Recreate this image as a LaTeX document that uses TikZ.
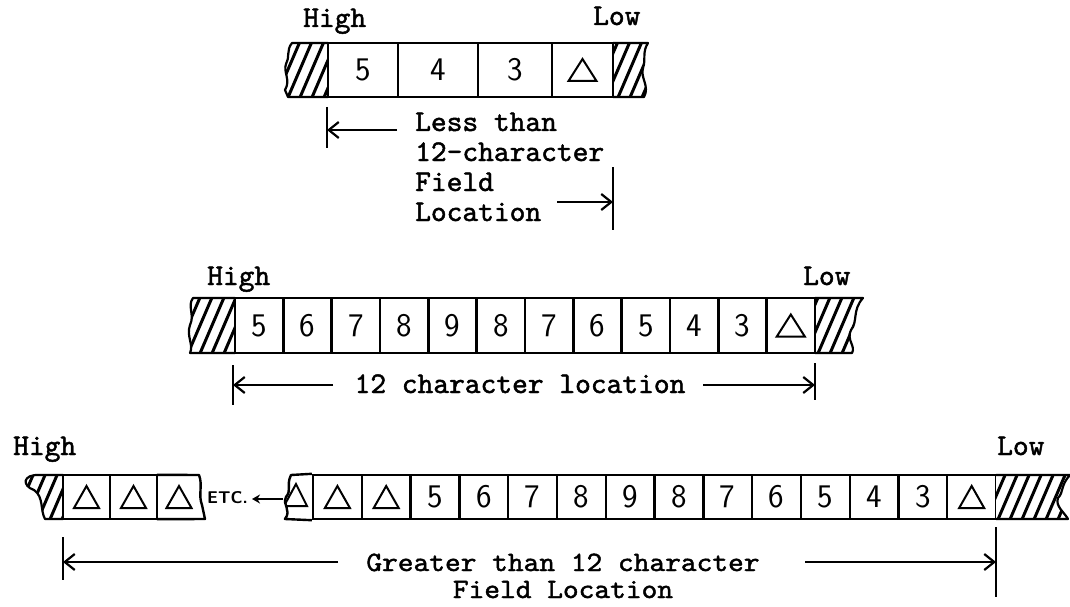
\documentclass[tikz,border=0pt]{standalone}
\usepackage{fontspec}
\usetikzlibrary{arrows.meta}
\newfontfamily\tw{lmmono10-regular.otf}[FakeBold=1.5]
\newfontfamily\twn{lmmono10-regular.otf}[FakeBold=1.5, FakeStretch=1.07]
\newcommand\hatchregion[5]{% #1 clip path, #2 x0, #3 count, #4 ytop, #5 ybot
  \begin{scope}
    \clip #1;
    \fill[white] #1;
    \foreach \k in {0,...,#3}
      \draw[hatchline] ({#2+12*\k},{#5+5}) -- ++({0.43*(#5-#4+10)},{-(#5-#4+10)});
  \end{scope}}
\begin{document}
\begin{tikzpicture}[x=1pt,y=-1pt,
  lbl/.style={font=\tw\fontsize{30}{30}\selectfont, inner sep=0},
  dig/.style={font=\sffamily\fontsize{33}{33}\selectfont},
  cellT/.style={draw, line width=2.4pt, inner sep=0, minimum height=54pt},
  cellM/.style={draw, line width=2.4pt, inner sep=0, minimum height=55pt},
  cellB/.style={draw, line width=2.4pt, inner sep=0, minimum height=44pt},
  hatchline/.style={line width=3pt},
  torn/.style={line width=2.2pt, line join=round},
  tick/.style={line width=2.2pt},
  dim/.style={line width=2.2pt, -{Straight Barb[length=10pt,width=16pt]}},
  pics/tri/.style={code={\draw[line width=2pt, line join=miter] (0,-11) -- (14,11) -- (-14,11) -- cycle;}},
  pics/trismall/.style={code={\draw[line width=2pt, line join=miter] (0,-11) -- (12.5,11) -- (-12.5,11) -- cycle;}}
]
\useasboundingbox (0,0) rectangle (1070,607);

% ================= TOP ROW =================
\node[lbl, anchor=base west] (tHigh) at (303,27) {High};
\node[lbl, anchor=base west] (tLow) at (593,25) {Low};
\hatchregion{(328,43) -- (292,43) .. controls (286,50) and (290,58) .. (286,64) .. controls (283,72) and (291,80) .. (285,90) -- (288,97) -- (328,97) -- cycle}{250}{8}{43}{97}
\draw[torn] (328,43) -- (292,43) .. controls (286,50) and (290,58) .. (286,64) .. controls (283,72) and (291,80) .. (285,90) -- (288,97) -- (328,97);
\hatchregion{(613,43) -- (648,43) .. controls (642,52) and (646,60) .. (643,68) .. controls (640,78) and (650,86) .. (644,97) -- (613,97) -- cycle}{580}{7}{43}{97}
\draw[torn] (613,43) -- (648,43) .. controls (642,52) and (646,60) .. (643,68) .. controls (640,78) and (650,86) .. (644,97) -- (613,97);
\node[cellT, dig, minimum width=70pt] (t1) at (363,70) {5};
\node[cellT, dig, minimum width=80pt] (t2) at (438,70) {4};
\node[cellT, dig, minimum width=74pt] (t3) at (515,70) {3};
\node[cellT, minimum width=61pt] (t4) at (582.5,70) {};
\pic (t4tri) at (t4.center) {tri};

\coordinate (tlA) at (327,107); \coordinate (tlB) at (327,148);
\draw[tick] (tlA) -- (tlB);
\coordinate (taS) at (397,130); \coordinate (taE) at (327,130);
\draw[dim] (taS) -- (taE);
\node[lbl, anchor=base west] (tx1) at (415,131) {Less than};
\node[lbl, anchor=base west] (tx2) at (415,161) {12-character};
\node[lbl, anchor=base west] (tx3) at (415,191) {Field};
\node[lbl, anchor=base west] (tx4) at (415,221) {Location};
\coordinate (trA) at (613,167); \coordinate (trB) at (613,230);
\draw[tick] (trA) -- (trB);
\coordinate (tbS) at (557,202); \coordinate (tbE) at (613,202);
\draw[dim] (tbS) -- (tbE);

% ================= MIDDLE ROW =================
\node[lbl, anchor=base west] (mHigh) at (207,285) {High};
\node[lbl, anchor=base west] (mLow) at (803,285) {Low};
\hatchregion{(235,298) -- (193,298) .. controls (187,306) and (195,315) .. (190,325) .. controls (186,336) and (194,345) .. (190,353) -- (235,353) -- cycle}{150}{9}{298}{353}
\draw[torn] (235,298) -- (193,298) .. controls (187,306) and (195,315) .. (190,325) .. controls (186,336) and (194,345) .. (190,353) -- (235,353);
\hatchregion{(815,298) -- (863,298) .. controls (852,310) and (858,322) .. (851,330) .. controls (846,340) and (856,346) .. (852,353) -- (815,353) -- cycle}{780}{8}{298}{353}
\draw[torn] (815,298) -- (863,298) .. controls (852,310) and (858,322) .. (851,330) .. controls (846,340) and (856,346) .. (852,353) -- (815,353);
\foreach \d [count=\i from 0] in {5,6,7,8,9,8,7,6,5,4,3}
  \node[cellM, dig, minimum width=48.33pt] (m\i) at ({235+48.33*(\i+0.5)},325.5) {\d};
\node[cellM, minimum width=48.33pt] (m11) at ({235+48.33*11.5},325.5) {};
\pic (m11tri) at (m11.center) {tri};

\coordinate (mlA) at (233,365); \coordinate (mlB) at (233,405);
\draw[tick] (mlA) -- (mlB);
\coordinate (maS) at (333,385); \coordinate (maE) at (233,385);
\draw[dim] (maS) -- (maE);
\node[lbl, anchor=base] (mtx) at (520,393) {12 character location};
\coordinate (mrA) at (815,363); \coordinate (mrB) at (815,400);
\draw[tick] (mrA) -- (mrB);
\coordinate (mbS) at (703,385); \coordinate (mbE) at (815,385);
\draw[dim] (mbS) -- (mbE);

% ================= BOTTOM ROW =================
\node[lbl, anchor=base west] (bHigh) at (13,455) {High};
\node[lbl, anchor=base west] (bLow) at (997,455) {Low};
% left piece
\hatchregion{(63,475) -- (40,475) .. controls (22,474) and (22,486) .. (34,490) .. controls (44,497) and (40,510) .. (45,519) -- (63,519) -- cycle}{0}{6}{475}{519}
\draw[torn] (63,475) -- (40,475) .. controls (22,474) and (22,486) .. (34,490) .. controls (44,497) and (40,510) .. (45,519) -- (63,519);
\node[cellB, minimum width=47pt] (b0) at (86.5,497) {};
\node[cellB, minimum width=47pt] (b1) at (133.5,497) {};
\node[inner sep=0, minimum width=46pt, minimum height=44pt] (b2) at (180,497) {};
\draw[torn, line width=2.4pt] (b2.north west) -- (199,475) .. controls (203,485) and (198,495) .. (202,505) -- (205,519) -- (b2.south west);
\pic (b0tri) at (b0.center) {trismall};
\pic (b1tri) at (b1.center) {trismall};
\pic (b2tri) at ([xshift=-1pt]b2.center) {trismall};
\node[font=\sffamily\bfseries\fontsize{17}{17}\selectfont, inner sep=0, anchor=west] (etc) at (207,498) {ETC.};
\coordinate (eS) at (283,499); \coordinate (eE) at (252,499);
\draw[line width=2pt, -{Stealth[length=8pt,width=9pt]}] (eS) -- (eE);
% right piece
\foreach \d [count=\i from 2] in {5,6,7,8,9,8,7,6,5,4,3}
  \node[cellB, dig, minimum width=48.79pt] (r\i) at ({313+48.79*(\i+0.5)},497) {\d};
\node[cellB, minimum width=48.79pt] (r0) at ({313+48.79*0.5},497) {};
\node[cellB, minimum width=48.79pt] (r1) at ({313+48.79*1.5},497) {};
\node[cellB, minimum width=48.79pt] (r13) at ({313+48.79*13.5},497) {};
\pic (r0tri) at (r0.center) {trismall};
\pic (r1tri) at (r1.center) {trismall};
\pic (r13tri) at (r13.center) {trismall};
\begin{scope}
  \clip (313,475) -- (291,475) .. controls (286,485) and (292,490) .. (286,497) .. controls (282,505) and (292,510) .. (285,519) -- (313,519) -- cycle;
  \draw[line width=2pt, line join=miter] (296,484) -- (307,506) -- (284,506) -- cycle;
\end{scope}
\draw[torn, line width=2.4pt] (r0.north west) -- (291,475) .. controls (286,485) and (292,490) .. (286,497) .. controls (282,505) and (292,510) .. (285,519) -- (r0.south west);
\hatchregion{(996,475) -- (1070,475) .. controls (1060,486) and (1064,492) .. (1058,498) .. controls (1055,506) and (1064,512) .. (1068,519) -- (996,519) -- cycle}{960}{10}{475}{519}
\draw[torn] (996,475) -- (1070,475) .. controls (1060,486) and (1064,492) .. (1058,498) .. controls (1055,506) and (1064,512) .. (1068,519) -- (996,519);

\coordinate (blA) at (63,537); \coordinate (blB) at (63,580);
\draw[tick] (blA) -- (blB);
\coordinate (baS) at (338,562); \coordinate (baE) at (63,562);
\draw[dim] (baS) -- (baE);
\node[inner sep=0, anchor=base, align=center, font=\twn\fontsize{28}{27}\selectfont] (btx) at (563,598) {Greater than 12 character\\Field Location};
\coordinate (brA) at (996,527); \coordinate (brB) at (996,597);
\draw[tick] (brA) -- (brB);
\coordinate (bbS) at (805,562); \coordinate (bbE) at (996,562);
\draw[dim] (bbS) -- (bbE);
\end{tikzpicture}
\end{document}
